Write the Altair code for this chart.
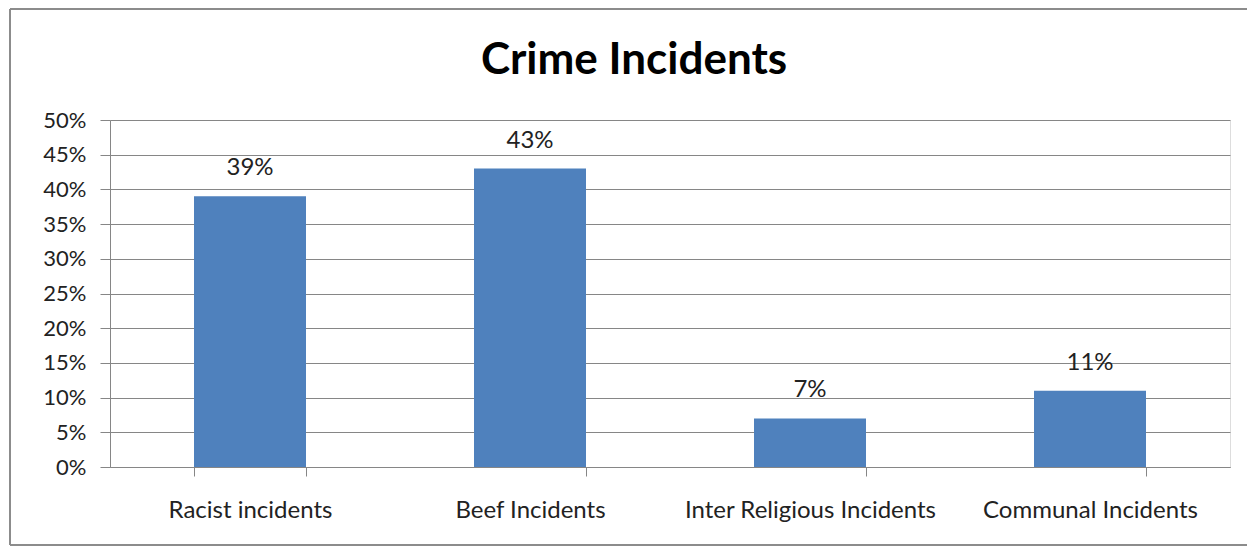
import altair as alt
import pandas as pd

categories = ["Racist incidents", "Beef Incidents", "Inter Religious Incidents", "Communal Incidents"]
values = [0.39, 0.43, 0.07, 0.11]
y_ticks = [0, 0.05, 0.10, 0.15, 0.20, 0.25, 0.30, 0.35, 0.40, 0.45, 0.50]
title_text = "Crime Incidents"

df = pd.DataFrame({"category": categories, "value": values})

FONT = "Lato"
W, H = 1120, 347

x_enc = alt.X("category:N", sort=categories, title=None,
              scale=alt.Scale(paddingInner=0.6, paddingOuter=0.3),
              axis=alt.Axis(labelAngle=0, labelFontSize=24, labelFont=FONT, labelColor="#222222",
                            labelPadding=22, tickSize=9, tickBand="extent", labelLimit=0,
                            tickColor="#868686", domainColor="#868686", grid=False))
y_enc = alt.Y("value:Q", title=None,
              scale=alt.Scale(domain=[0, 0.5], nice=False),
              axis=alt.Axis(values=y_ticks, format=".0%", labelFontSize=22, labelFont=FONT,
                            labelColor="#222222", labelPadding=14, tickSize=10, labelOverlap=False,
                            tickColor="#868686", domainColor="#868686",
                            gridColor="#868686", gridWidth=1))

bars = alt.Chart(df).mark_bar(color="#4F81BD").encode(x=x_enc, y=y_enc)
labels = alt.Chart(df).mark_text(baseline="middle", dy=-28, fontSize=24, font=FONT, color="#222222").encode(
    x=x_enc,
    y=y_enc,
    text=alt.Text("value:Q", format=".0%"))

frame_df = pd.DataFrame({"k": [0]})
title = alt.Chart(frame_df).transform_calculate(t=f"'{title_text}'").mark_text(
    font=FONT, fontSize=44, fontWeight="bold", color="#000000", baseline="middle", align="center", clip=False
).encode(x=alt.value(524), y=alt.value(-59), text="t:N")
left = alt.Chart(frame_df).mark_rule(color="#8c8c8c", strokeWidth=2, clip=False).encode(
    x=alt.value(-100), y=alt.value(-111), y2=alt.value(H + 78))
top = alt.Chart(frame_df).mark_rule(color="#8c8c8c", strokeWidth=2, clip=False).encode(
    x=alt.value(-100), x2=alt.value(W + 20), y=alt.value(-111))
bottom = alt.Chart(frame_df).mark_rule(color="#8c8c8c", strokeWidth=2, clip=False).encode(
    x=alt.value(-100), x2=alt.value(W + 20), y=alt.value(H + 78))

chart = alt.layer(bars, labels, title, left, top, bottom).properties(
    width=W, height=H,
    autosize=alt.AutoSizeParams(type="none"),
    padding={"left": 102, "top": 112, "right": 17, "bottom": 80},
).configure_view(stroke=None).configure(background="white")

chart.save("out.html", embed_options={"renderer": "svg", "actions": False})
